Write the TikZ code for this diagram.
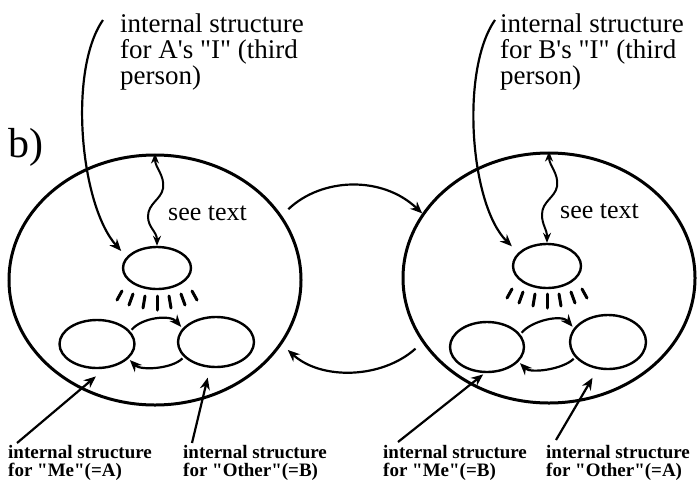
\documentclass[tikz,border=0pt]{standalone}
\usepackage{fontspec}
\setmainfont{Liberation Serif}[Ligatures=TeXOff]
\usetikzlibrary{shapes.geometric,arrows.meta,calc}
\tikzset{
  ring/.style={draw, ellipse, line width=3pt, inner sep=0pt, minimum width=292pt, minimum height=250pt},
  blob/.style={draw, ellipse, line width=2.4pt, inner sep=0pt},
  tip/.style={-{Stealth[length=12pt,width=10pt]}, line width=2.2pt},
  wave/.style={{Stealth[length=10pt,width=8pt]}-{Stealth[length=10pt,width=8pt]}, line width=2pt},
  ray/.style={line width=3pt, line cap=round},
  toplabel/.style={align=left, inner sep=0pt, anchor=north west, font=\fontsize{27}{26}\selectfont},
  botlabel/.style={align=left, inner sep=0pt, anchor=north west, font=\bfseries\fontsize{19}{18}\selectfont},
  seetext/.style={inner sep=0pt, anchor=base west, font=\fontsize{26}{28}\selectfont},
}
\begin{document}
\begin{tikzpicture}[x=1pt,y=-1pt]
\useasboundingbox (0,0) rectangle (698,493);

% panel label
\node[font=\fontsize{42}{44}\selectfont, inner sep=0pt, anchor=base west] (panel) at (8,157) {b)};

% the two persons
\node[ring] (L) at (155,280) {};
\node[ring] (R) at (549,278) {};

% structures inside A
\node[blob, minimum width=68pt, minimum height=42pt] (LT) at (157,268) {};
\node[blob, minimum width=75pt, minimum height=48pt] (LM) at (97,344) {};
\node[blob, minimum width=76pt, minimum height=50pt] (LO) at (216,342) {};

% structures inside B
\node[blob, minimum width=68pt, minimum height=44pt] (RT) at (547,266) {};
\node[blob, minimum width=74pt, minimum height=50pt] (RM) at (487,347) {};
\node[blob, minimum width=76pt, minimum height=54pt] (RO) at (608,342) {};

% rays below each "I"
\foreach \c in {LT,RT}{
  \foreach \ax/\ay/\bx/\by in {-35/23/-40/32, -24/26/-28/37, -12/28/-14/40, 0/28/0/42,
                               12/28/14/40, 24/26/28/37, 35/23/40/32}{
    \draw[ray] ($(\c)+(\ax,\ay)$) -- ($(\c)+(\bx,\by)$);
  }
}

% exchange between Me and Other
\draw[tip, shorten <=2pt, shorten >=2pt] (LM.21) .. controls +(12,-14) and +(-12,-14) .. (LO.158);
\draw[tip, shorten <=2pt, shorten >=2pt] (LO.205) .. controls +(-12,12) and +(12,12) .. (LM.-25);
\draw[tip, shorten <=2pt, shorten >=2pt] (RM.21) .. controls +(12,-14) and +(-12,-14) .. (RO.158);
\draw[tip, shorten <=2pt, shorten >=2pt] (RO.205) .. controls +(-12,12) and +(12,12) .. (RM.-25);

% exchange between the two persons
\draw[tip, shorten <=9pt] (L.27) .. controls +(40,-38) and +(-40,-38) .. (R.153);
\draw[tip, shorten <=9pt, shorten >=8pt] (R.207) .. controls +(-40,36) and +(40,36) .. (L.-27);

% wavy links to the outside
\foreach \o/\t in {L/LT, R/RT}{
  \draw[wave] (\o.north) .. controls ($(\o.north)+(0,14)$) and ($(\o.north)+(10,22)$) ..
    ($(\o.north)+(8,35)$) .. controls ($(\o.north)+(6,46)$) and ($(\o.north)+(-7,50)$) ..
    ($(\o.north)+(-7,63)$) .. controls ($(\o.north)+(-7,74)$) and ($(\t.north)+(0,-14)$) .. (\t.north);
}
\node[seetext] (seeA) at (168,220) {see text};
\node[seetext] (seeB) at (560,218) {see text};

% labels for the "I" structures
\node[toplabel] (labA) at (120,14) {internal structure\\for A's "I" (third\\person)};
\node[toplabel] (labB) at (500,14) {internal structure\\for B's "I" (third\\person)};
\coordinate (fromA) at (103,20);
\coordinate (fromB) at (495,20);
\draw[tip, shorten >=8pt] (fromA) .. controls (68,70) and (80,205) .. (LT.160);
\draw[tip, shorten >=9pt] (fromB) .. controls (460,70) and (470,205) .. (RT.155);

% labels for Me and Other
\node[botlabel] (meA) at (8,445) {internal structure\\for "Me"(=A)};
\node[botlabel] (otB) at (183,445) {internal structure\\for "Other"(=B)};
\node[botlabel] (meB) at (383,445) {internal structure\\for "Me"(=B)};
\node[botlabel] (otA) at (546,445) {internal structure\\for "Other"(=A)};
\coordinate (p1) at (17,443);
\coordinate (p2) at (192,443);
\coordinate (p3) at (398,442);
\coordinate (p4) at (556,440);
\draw[tip, shorten >=12pt] (p1) -- (LM.288);
\draw[tip, shorten >=10pt] (p2) -- (LO.257);
\draw[tip, shorten >=2pt] (p3) -- (RM.265);
\draw[tip, shorten >=10pt] (p4) -- (RO.249);
\end{tikzpicture}
\end{document}
